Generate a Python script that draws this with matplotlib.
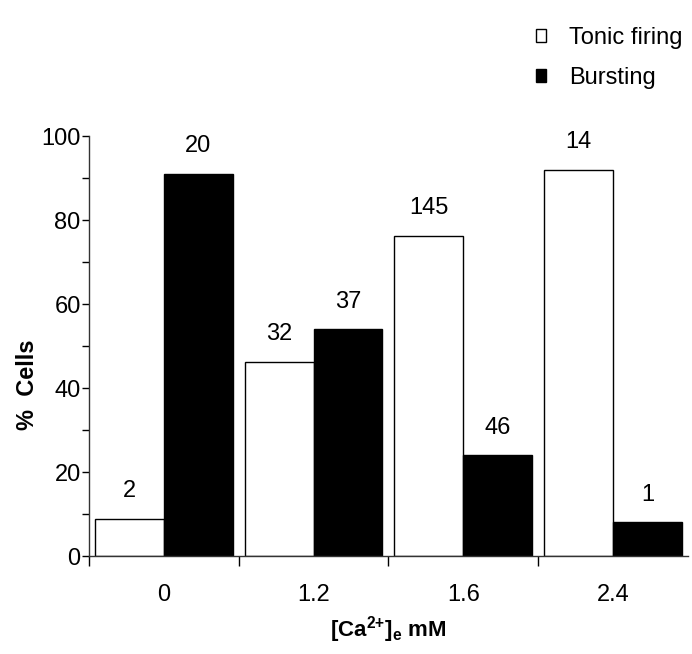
import numpy as np
import matplotlib
matplotlib.use("Agg")
import matplotlib.pyplot as plt
from matplotlib.ticker import FixedLocator, MultipleLocator

plt.rcParams["font.family"] = ["Liberation Sans", "DejaVu Sans"]
plt.rcParams["mathtext.fontset"] = "custom"
plt.rcParams["mathtext.rm"] = "Liberation Sans:bold"
plt.rcParams["mathtext.default"] = "rm"

categories = ["0", "1.2", "1.6", "2.4"]
tonic = [8.8, 46.2, 76.2, 91.9]
bursting = [91.0, 54.0, 24.0, 8.0]
tonic_n = ["2", "32", "145", "14"]
bursting_n = ["20", "37", "46", "1"]

fig = plt.figure(figsize=(6.92, 6.54), dpi=100)
ax = fig.add_axes([0.1286, 0.1498, 0.8654, 0.6422])

x = np.arange(len(categories))
w = 0.46
b1 = ax.bar(x, tonic, width=-w, align="edge", color="white",
            edgecolor="black", linewidth=1.0, label="Tonic firing")
b2 = ax.bar(x, bursting, width=w, align="edge", color="black",
            edgecolor="black", linewidth=1.0, label="Bursting")

for xi, v, n in zip(x, tonic, tonic_n):
    ax.annotate(n, (xi - w / 2, v), xytext=(0, 12), textcoords="offset points",
                ha="center", va="bottom", fontsize=17)
for xi, v, n in zip(x, bursting, bursting_n):
    ax.annotate(n, (xi + w / 2, v), xytext=(0, 12), textcoords="offset points",
                ha="center", va="bottom", fontsize=17)

ax.set_xlim(-0.5, 3.5)
ax.set_ylim(0, 100)
ax.set_xticks(x)
ax.set_xticklabels(categories, fontsize=17)
ax.xaxis.set_minor_locator(FixedLocator([-0.5, 0.5, 1.5, 2.5]))
ax.tick_params(axis="x", which="major", length=0, pad=20)
ax.tick_params(axis="x", which="minor", length=7, width=1, direction="out")
ax.set_yticks(np.arange(0, 101, 20))
ax.yaxis.set_minor_locator(MultipleLocator(10))
ax.tick_params(axis="y", which="both", length=5, width=1, direction="out",
               labelsize=17, pad=1)

for s in ["top", "right"]:
    ax.spines[s].set_visible(False)
for s in ["left", "bottom"]:
    ax.spines[s].set_color("#333333")
    ax.spines[s].set_linewidth(1.0)

ax.set_xlabel("[Ca$^{2{+}}$]$_e$ mM", fontsize=16, fontweight="bold", labelpad=6)
fig.text(27 / 692, 1 - 385 / 654, "%  Cells", rotation=90, ha="center",
         va="center", fontsize=17, fontweight="bold")

leg = fig.legend(handles=[b1, b2], loc="upper left",
                 bbox_to_anchor=(515 / 692, 1 - 6 / 654), frameon=False,
                 fontsize=17, handlelength=0.4, handleheight=0.45,
                 handletextpad=1.0, labelspacing=0.75)

fig.savefig("out.png", dpi=100)
